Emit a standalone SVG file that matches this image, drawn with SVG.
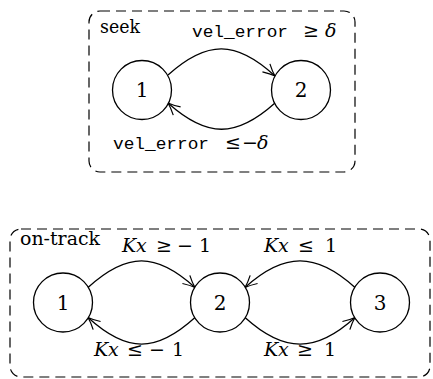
<svg xmlns="http://www.w3.org/2000/svg" width="433" height="379" viewBox="0 0 433 379">
<defs>
<marker id="arr" markerUnits="userSpaceOnUse" markerWidth="20" markerHeight="20" refX="0" refY="0" viewBox="-14 -10 16 20" orient="auto">
<path d="M-12,-5.5 Q-5,-1.5 0,0 Q-5,1.5 -12,5.5" fill="none" stroke="#000" stroke-width="1.2"/>
</marker>
</defs>
<style>
.box{fill:none;stroke:#000;stroke-width:1.2;stroke-dasharray:10 6}
.node{fill:#fff;stroke:#000;stroke-width:1.3}
.edge{fill:none;stroke:#000;stroke-width:1.3;marker-end:url(#arr)}
.t{font-family:'DejaVu Serif','Liberation Serif',serif;font-size:19px;fill:#000}
.i{font-style:italic}
.m{font-family:'Liberation Mono','DejaVu Sans Mono',monospace;font-size:17px;fill:#000}
.nl{font-family:'DejaVu Serif','Liberation Serif',serif;font-size:20px;fill:#000;text-anchor:middle}
</style>
<rect class="box" x="89" y="11" width="266" height="161" rx="11"/>
<rect class="box" x="10" y="229" width="420" height="148" rx="11"/>
<text class="t" x="100" y="33" textLength="40" lengthAdjust="spacingAndGlyphs">seek</text>
<text class="t" x="20" y="245" textLength="80" lengthAdjust="spacingAndGlyphs">on-track</text>
<g id="connectors">
<path class="edge" d="M168,75 C207,40 236,40 275,76"/>
<path class="edge" d="M275,103 C236,138 207,138 168,103"/>
<path class="edge" d="M88,287.5 C127,252 156,252 195,287.5"/>
<path class="edge" d="M195,317.5 C156,353 127,353 88,317.5"/>
<path class="edge" d="M355,287.5 C316,252 284,252 245,287.5"/>
<path class="edge" d="M245,317.5 C284,353 316,353 355,317.5"/>
</g>
<g id="labels">
<text class="m" x="192" y="37" textLength="96" lengthAdjust="spacingAndGlyphs">vel_error</text>
<text class="t" x="303" y="37">≥</text>
<text class="t i" x="325" y="37">δ</text>
<text class="m" x="113" y="149" textLength="96" lengthAdjust="spacingAndGlyphs">vel_error</text>
<text class="t" x="225" y="149">≤</text>
<text class="t" x="242" y="149">−</text>
<text class="t i" x="257" y="149">δ</text>
<text class="t" y="252"><tspan class="i" x="122">K</tspan><tspan class="i" x="136">x</tspan><tspan x="156">≥</tspan><tspan x="177">−</tspan><tspan x="199">1</tspan></text>
<text class="t" y="252"><tspan class="i" x="264">K</tspan><tspan class="i" x="278">x</tspan><tspan x="298">≤</tspan><tspan x="325">1</tspan></text>
<text class="t" y="356"><tspan class="i" x="94">K</tspan><tspan class="i" x="108">x</tspan><tspan x="127">≤</tspan><tspan x="149">−</tspan><tspan x="172">1</tspan></text>
<text class="t" y="356"><tspan class="i" x="264">K</tspan><tspan class="i" x="278">x</tspan><tspan x="297">≥</tspan><tspan x="324">1</tspan></text>
</g>
<g id="seek-1"><circle class="node" cx="142" cy="90" r="29.5"/><text class="nl" x="142" y="97">1</text></g>
<g id="seek-2"><circle class="node" cx="301" cy="90" r="29.5"/><text class="nl" x="301" y="97">2</text></g>
<g id="track-1"><circle class="node" cx="63" cy="302.5" r="29.5"/><text class="nl" x="63" y="309.5">1</text></g>
<g id="track-2"><circle class="node" cx="220" cy="302.5" r="29.5"/><text class="nl" x="220" y="309.5">2</text></g>
<g id="track-3"><circle class="node" cx="380" cy="302.5" r="29.5"/><text class="nl" x="380" y="309.5">3</text></g>
</svg>
